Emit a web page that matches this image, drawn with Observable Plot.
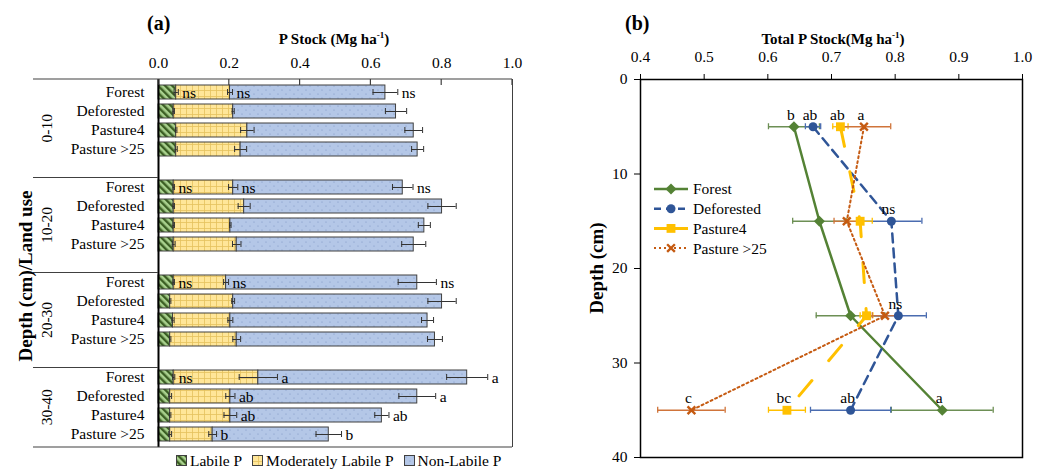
<!DOCTYPE html>
<html><head><meta charset="utf-8">
<script src="https://cdn.jsdelivr.net/npm/d3@7"></script>
<script src="https://cdn.jsdelivr.net/npm/@observablehq/plot@0.6"></script>
<style>
body{margin:0;background:#fff;font-family:"Liberation Serif",serif;color:#000;}
#wrap{position:relative;width:1047px;height:471px;overflow:hidden;background:#fff;}
#wrap svg{position:absolute;top:0;background:transparent !important;}
.abs{position:absolute;white-space:nowrap;line-height:1;font-family:"Liberation Serif",serif;}
.ttl{font-weight:bold;font-size:20px;}
.axl{font-weight:bold;font-size:15px;transform:translateX(-50%);}
.rot{font-weight:bold;font-size:19px;transform:translate(-50%,-50%) rotate(-90deg);}
sup{font-size:9px;line-height:0;vertical-align:6px;}
.leg{display:flex;align-items:center;font-size:15.5px;}
.leg span.t{margin:0 10px 0 3px;}
</style></head><body><div id="wrap"></div>
<script>
// ---------- Panel (a) data ----------
const depths = ["0-10","10-20","20-30","30-40"];
const landUses = ["Forest","Deforested","Pasture4","Pasture >25"];
const fractions = ["Labile P","Moderately Labile P","Non-Labile P"];
const labileP    = [0.050,0.043,0.050,0.050, 0.043,0.043,0.043,0.043, 0.043,0.033,0.041,0.033, 0.043,0.033,0.033,0.033];
const moderateP  = [0.152,0.168,0.201,0.182, 0.168,0.199,0.160,0.178, 0.148,0.178,0.162,0.188, 0.239,0.170,0.170,0.120];
const nonLabileP = [0.439,0.460,0.470,0.500, 0.479,0.559,0.548,0.500, 0.540,0.590,0.557,0.560, 0.590,0.528,0.428,0.328];
const labileErr   = [0.006,0.002,0.002,0.003, 0.002,0.002,0.002,0.004, 0.002,0.002,0.003,0.002, 0.003,0.004,0.002,0.004];
const moderateErr = [0.007,0.003,0.019,0.017, 0.013,0.017,0.002,0.012, 0.007,0.004,0.007,0.011, 0.054,0.013,0.018,0.011];
const totalErr    = [0.035,0.030,0.025,0.017, 0.029,0.040,0.017,0.034, 0.054,0.040,0.017,0.021, 0.058,0.052,0.020,0.036];
const labileLetter   = ["ns","","","", "ns","","","", "ns","","","", "ns","","",""];
const moderateLetter = ["ns","","","", "ns","","","", "ns","","","", "a","ab","ab","b"];
const totalLetter    = ["ns","","","", "ns","","","", "ns","","","", "a","a","ab","b"];
const xTicksA = [0.0,0.2,0.4,0.6,0.8,1.0];

// ---------- Panel (b) data ----------
const depthMid = [5,15,25,35];
const seriesNames = ["Forest","Deforested","Pasture4","Pasture >25"];
const forestTotal     = [0.641,0.681,0.730,0.874];
const deforestedTotal = [0.671,0.794,0.805,0.730];
const pasture4Total   = [0.714,0.745,0.755,0.630];
const pasture25Total  = [0.751,0.724,0.784,0.480];
const forestErr     = [0.040,0.042,0.054,0.080];
const deforestedErr = [0.012,0.048,0.044,0.063];
const pasture4Err   = [0.012,0.019,0.010,0.029];
const pasture25Err  = [0.042,0.020,0.020,0.053];
const forestLetters     = ["b","","","a"];
const deforestedLetters = ["ab","ns","ns","ab"];
const pasture4Letters   = ["ab","","","bc"];
const pasture25Letters  = ["a","","","c"];
const xTicksB = [0.4,0.5,0.6,0.7,0.8,0.9,1.0];
const yTicksB = [0,10,20,30,40];

const wrap = document.getElementById("wrap");
const FONT = '"Liberation Serif", serif';

// ================= Panel (a) =================
const yDomain = [];
depths.forEach((g,i)=>{ landUses.forEach(u=>yDomain.push(g+"|"+u)); if(i<depths.length-1) yDomain.push(g+"|gap"); });
const stackRows=[], errRows=[], letterRows=[];
depths.forEach((g,i)=>landUses.forEach((u,j)=>{
  const k=i*4+j, key=g+"|"+u;
  const comps=[labileP[k],moderateP[k],nonLabileP[k]];
  const errs=[labileErr[k],moderateErr[k],totalErr[k]];
  const lets=[labileLetter[k],moderateLetter[k],totalLetter[k]];
  let cum=0;
  comps.forEach((v,f)=>{
    stackRows.push({key, fraction:fractions[f], value:v});
    cum+=v;
    errRows.push({key, c:cum, e:errs[f]});
    if(lets[f]) letterRows.push({key, x:cum+errs[f], text:lets[f]});
  });
}));
const patIds = ["patL","patM","patN"];
const plotA = Plot.plot({
  width:540, height:471, marginLeft:158, marginRight:28, marginTop:79, marginBottom:24,
  style:{fontFamily:FONT, fontSize:"15.5px", color:"#000", background:"transparent"},
  x:{domain:[0,1]},
  y:{domain:yDomain, paddingInner:0.24, paddingOuter:0.12},
  color:{domain:fractions, range:patIds.map(id=>`url(#${id})`)},
  marks:[
    Plot.barX(stackRows, Plot.stackX({x:"value", y:"key", fill:"fraction", stroke:"#404040", strokeWidth:1})),
    Plot.ruleX([0], {stroke:"#000", strokeWidth:2}),
    Plot.ruleX([1], {stroke:"#404040", strokeWidth:1}),
    Plot.ruleY(errRows, {y:"key", x1:d=>d.c-d.e, x2:d=>d.c+d.e, stroke:"#333", strokeWidth:1}),
    Plot.tickX(errRows, {x:d=>d.c-d.e, y:"key", stroke:"#333", strokeWidth:1, insetTop:4, insetBottom:4}),
    Plot.tickX(errRows, {x:d=>d.c+d.e, y:"key", stroke:"#333", strokeWidth:1, insetTop:4, insetBottom:4}),
    Plot.text(letterRows, {x:"x", y:"key", text:"text", dx:4, dy:1, textAnchor:"start", fontSize:15.5}),
    Plot.axisX({anchor:"top", ticks:xTicksA, tickFormat:d3.format(".1f"), tickSize:0, tickPadding:12, label:null}),
    Plot.axisY({tickSize:0, tickPadding:14, label:null, tickFormat:d=>d.endsWith("|gap")?"":d.split("|")[1]})
  ]
});
plotA.style.left="0px";
wrap.appendChild(plotA);

function addPatterns(svg){
  const defs = d3.select(svg).insert("defs", ":first-child");
  const pL = defs.append("pattern").attr("id","patL").attr("patternUnits","userSpaceOnUse")
    .attr("width",5).attr("height",5).attr("patternTransform","rotate(-45)");
  pL.append("rect").attr("width",5).attr("height",5).attr("fill","#a9d18e");
  pL.append("rect").attr("width",2.4).attr("height",5).attr("fill","#3b5e23");
  const pM = defs.append("pattern").attr("id","patM").attr("patternUnits","userSpaceOnUse")
    .attr("width",6).attr("height",6);
  pM.append("rect").attr("width",6).attr("height",6).attr("fill","#ffe699");
  pM.append("path").attr("d","M0,0.5H6M0.5,0V6").attr("stroke","#e5c25e").attr("stroke-width",0.8).attr("fill","none");
  const pN = defs.append("pattern").attr("id","patN").attr("patternUnits","userSpaceOnUse")
    .attr("width",8).attr("height",8);
  pN.append("rect").attr("width",8).attr("height",8).attr("fill","#b4c7e7");
  pN.append("circle").attr("cx",2).attr("cy",2).attr("r",0.6).attr("fill","#7b95c4");
  pN.append("circle").attr("cx",6).attr("cy",6).attr("r",0.6).attr("fill","#7b95c4");
}
addPatterns(plotA);

(function decorateA(){
  const ys = plotA.scale("y"), xs = plotA.scale("x");
  const [r0, r1] = ys.range;
  const sel = d3.select(plotA);
  const g = sel.append("g").attr("stroke","#404040").attr("stroke-width",1.2);
  const xR = xs.apply(1), xL = 33;
  g.append("line").attr("x1",xL).attr("x2",xR).attr("y1",r0).attr("y2",r0);
  g.append("line").attr("x1",xL).attr("x2",xR).attr("y1",r1).attr("y2",r1);
  xTicksA.forEach(v=>{ g.append("line").attr("x1",xs.apply(v)).attr("x2",xs.apply(v)).attr("y1",r0).attr("y2",r0+6); });
  const seps = depths.slice(0,-1).map(d=>ys.apply(d+"|gap")+ys.bandwidth/2+ys.step/2);
  seps.forEach(y=>g.append("line").attr("x1",xL).attr("x2",xs.apply(0)).attr("y1",y).attr("y2",y));
  const bounds=[r0,...seps,r1];
  depths.forEach((d,i)=>{
    const cy=(bounds[i]+bounds[i+1])/2;
    sel.append("text").attr("transform",`translate(52,${cy}) rotate(-90)`).attr("text-anchor","middle")
      .attr("font-size",15.5).attr("font-family",FONT).attr("fill","#000").text(d);
  });
})();

// ================= Panel (b) =================
const seriesB = [
  {name:seriesNames[0], v:forestTotal, e:forestErr, l:forestLetters},
  {name:seriesNames[1], v:deforestedTotal, e:deforestedErr, l:deforestedLetters},
  {name:seriesNames[2], v:pasture4Total, e:pasture4Err, l:pasture4Letters},
  {name:seriesNames[3], v:pasture25Total, e:pasture25Err, l:pasture25Letters}
];
const styleB = {
  "Forest":     {color:"#548235", err:"#6d8f55", width:2.5, dash:null,   symbol:"diamond2", r:5,   filled:true},
  "Deforested": {color:"#2f5597", err:"#4a6cb0", width:2.5, dash:"9,6",  symbol:"circle",   r:4.5, filled:true},
  "Pasture4":   {color:"#ffc000", err:"#ffc000", width:3,   dash:"20,26",symbol:"square",   r:5,   filled:true},
  "Pasture >25":{color:"#c55a11", err:"#d0743a", width:2,   dash:"2,3",  symbol:"times",    r:3.6, filled:false}
};
const legendDash = {"Forest":null, "Deforested":"7,5", "Pasture4":null, "Pasture >25":"2,3"};
const ptsB = seriesB.map(s=>depthMid.map((d,i)=>({series:s.name, depth:d, v:s.v[i], e:s.e[i], letter:s.l[i]})));
const errMarks=[], lineMarks=[], dotMarks=[], textMarks=[];
ptsB.forEach(pts=>{
  const st = styleB[pts[0].series];
  errMarks.push(Plot.ruleY(pts, {y:"depth", x1:d=>d.v-d.e, x2:d=>d.v+d.e, stroke:st.err, strokeWidth:1.3}));
  errMarks.push(Plot.ruleX(pts, {x:d=>d.v-d.e, y1:"depth", y2:"depth", insetTop:-3, insetBottom:-3, stroke:st.err, strokeWidth:1.3}));
  errMarks.push(Plot.ruleX(pts, {x:d=>d.v+d.e, y1:"depth", y2:"depth", insetTop:-3, insetBottom:-3, stroke:st.err, strokeWidth:1.3}));
  lineMarks.push(Plot.line(pts, {x:"v", y:"depth", stroke:st.color, strokeWidth:st.width, strokeDasharray:st.dash}));
  dotMarks.push(st.filled
    ? Plot.dot(pts, {x:"v", y:"depth", symbol:st.symbol, r:st.r, fill:st.color, stroke:"none"})
    : Plot.dot(pts, {x:"v", y:"depth", symbol:st.symbol, r:st.r, fill:"none", stroke:st.color, strokeWidth:2.4}));
  textMarks.push(Plot.text(pts.filter(d=>d.letter), {x:"v", y:"depth", text:"letter", dx:-3, dy:-12, fontSize:15.5}));
});
const plotB = Plot.plot({
  width:487, height:471, marginLeft:80, marginRight:25, marginTop:79, marginBottom:14,
  style:{fontFamily:FONT, fontSize:"15.5px", color:"#000", background:"transparent"},
  x:{domain:[0.4,1.0]},
  y:{domain:[0,40], reverse:true},
  marks:[
    ...errMarks, ...lineMarks, ...dotMarks, ...textMarks,
    Plot.frame({stroke:"#000", strokeWidth:1.5}),
    Plot.axisX({anchor:"top", ticks:xTicksB, tickFormat:d3.format(".1f"), tickSize:6, tickPadding:12, label:null}),
    Plot.axisY({ticks:yTicksB, tickSize:6, tickPadding:7, label:null})
  ]
});
plotB.style.left="560px";
wrap.appendChild(plotB);

(function legendB(){
  const sel = d3.select(plotB);
  seriesB.forEach((s,i)=>{
    const st=styleB[s.name];
    const y = 189 + i*19.7, x0=94, x1=128, xm=111;
    sel.append("line").attr("x1",x0).attr("x2",x1).attr("y1",y).attr("y2",y)
      .attr("stroke",st.color).attr("stroke-width",st.width)
      .attr("stroke-dasharray", legendDash[s.name]);
    const symType = {diamond2:d3.symbolDiamond2, circle:d3.symbolCircle, square:d3.symbolSquare, times:d3.symbolTimes}[st.symbol];
    sel.append("path").attr("transform",`translate(${xm},${y})`)
      .attr("d", d3.symbol(symType, st.r*st.r*Math.PI)())
      .attr("fill", st.filled?st.color:"none").attr("stroke", st.filled?"none":st.color).attr("stroke-width",2.4);
    sel.append("text").attr("x",133).attr("y",y).attr("dy","0.35em").attr("font-size",15.5)
      .attr("text-anchor","start").attr("font-family",FONT).attr("fill","#000").text(s.name);
  });
})();

// ================= Titles & legend (HTML) =================
function addDiv(cls, html, left, top){
  const d=document.createElement("div"); d.className="abs "+cls; d.innerHTML=html;
  d.style.left=left+"px"; d.style.top=top+"px"; wrap.appendChild(d); return d;
}
addDiv("ttl","(a)",147,13);
addDiv("axl","P Stock (Mg ha<sup>-1</sup>)",334,32);
addDiv("rot","Depth (cm)/Land use",25,276);
addDiv("ttl","(b)",625,13);
addDiv("axl","Total P Stock(Mg ha<sup>-1</sup>)",833,32);
addDiv("rot","Depth (cm)",596,268);

const leg = addDiv("leg","",176,453);
fractions.forEach((f,i)=>{
  leg.insertAdjacentHTML("beforeend",
    `<svg width="11" height="11" style="position:static"><rect x="0.5" y="0.5" width="10" height="10" fill="url(#${patIds[i]})" stroke="#404040"/></svg><span class="t">${f}</span>`);
});
</script></body></html>
